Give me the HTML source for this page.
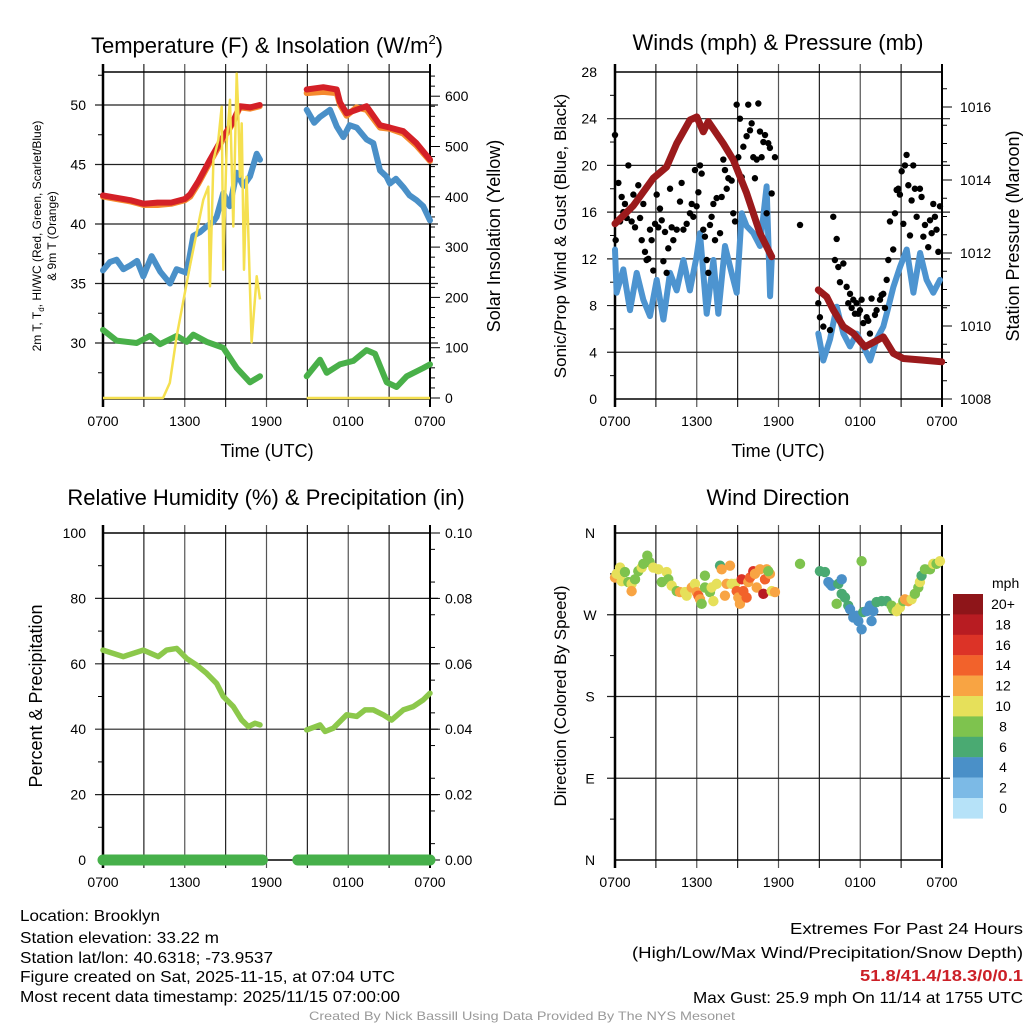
<!DOCTYPE html>
<html><head><meta charset="utf-8"><style>
html,body{margin:0;padding:0;background:#fff}
svg{display:block;font-family:"Liberation Sans",sans-serif}
</style></head><body>
<svg id="chart" width="1024" height="1024" viewBox="0 0 1024 1024" xmlns="http://www.w3.org/2000/svg">
<rect width="1024" height="1024" fill="#fff"/>
<g id="layer"></g>
<g font-size="16" fill="#000">
<text x="20" y="921" textLength="140" lengthAdjust="spacingAndGlyphs">Location: Brooklyn</text>
<text x="20" y="943" textLength="199" lengthAdjust="spacingAndGlyphs">Station elevation: 33.22 m</text>
<text x="20" y="963" textLength="253" lengthAdjust="spacingAndGlyphs">Station lat/lon: 40.6318; -73.9537</text>
<text x="20" y="982" textLength="375" lengthAdjust="spacingAndGlyphs">Figure created on Sat, 2025-11-15, at 07:04 UTC</text>
<text x="20" y="1002" textLength="380" lengthAdjust="spacingAndGlyphs">Most recent data timestamp: 2025/11/15 07:00:00</text>
<text x="790" y="934" textLength="233" lengthAdjust="spacingAndGlyphs">Extremes For Past 24 Hours</text>
<text x="632" y="958" textLength="391" lengthAdjust="spacingAndGlyphs">(High/Low/Max Wind/Precipitation/Snow Depth)</text>
<text x="860" y="981" textLength="163" lengthAdjust="spacingAndGlyphs" fill="#cc2027" font-weight="bold">51.8/41.4/18.3/0/0.1</text>
<text x="693" y="1003" textLength="330" lengthAdjust="spacingAndGlyphs">Max Gust: 25.9 mph On 11/14 at 1755 UTC</text>
<text x="309" y="1020" font-size="12" fill="#999" textLength="426" lengthAdjust="spacingAndGlyphs">Created By Nick Bassill Using Data Provided By The NYS Mesonet</text>
</g>
</svg>
<script>
// ---- Temperature panel data (time in hours since 0700 UTC) ----
const redT=[0,1,2,3,4,5,6,6.4,7.0,7.85,8.8,9.5,10.05,10.8,11.5,14.95,16.17,17.15,17.4,17.88,18.6,19.35,20.33,21.06,22.04,23.0,24];
const redV=[42.4,42.2,42.0,41.7,41.8,41.8,42.1,42.5,43.6,45.4,47.3,48.5,49.9,49.8,50.0,51.3,51.5,51.3,50.2,49.3,49.6,49.9,48.3,48.1,47.8,46.8,45.4];
const orangeT=[0,1,2,3,4,5,6,6.4,7.0,7.85,8.8,9.5,10.05,10.8,11.5,14.95,16.17,17.15,17.4,17.88,18.6,19.35,20.33,21.06,22.04,23.0,24];
const orangeV=[42.3,42.1,41.9,41.6,41.6,41.7,42.0,42.3,43.4,45.2,47.1,48.4,49.8,49.7,49.9,51.0,51.1,51.0,50.0,49.1,49.8,49.6,48.1,48.0,47.6,46.6,45.3];
const dewT=[0,0.5,1.0,1.5,1.98,2.5,2.96,3.57,4.2,4.92,5.4,6.14,6.63,7.1,7.6,8.1,8.34,8.83,9.3,9.81,10.3,10.79,11.28,11.52,14.95,15.5,15.93,16.66,17.15,17.64,18.1,18.62,19.35,19.84,20.33,20.8,21.06,21.5,22.04,22.5,23.02,23.5,24];
const dewV=[36.1,36.8,37.0,36.2,36.5,36.9,35.6,37.3,36.0,35.0,36.2,35.9,39.0,39.3,39.8,40.2,40.6,42.6,41.5,44.3,43.2,44.0,45.9,45.4,49.6,48.5,49.0,49.6,48.2,47.3,48.3,48.1,47.1,46.8,44.5,44.0,43.4,43.8,43.1,42.4,42.0,41.5,40.3];
const wcT=[0,1.0,2.47,3.45,4.18,5.41,6.14,6.63,7.6,8.83,9.81,10.79,11.52,14.95,15.93,16.42,17.39,18.37,19.35,19.96,20.82,21.55,22.29,23.51,24];
const wcV=[31.1,30.2,30.0,30.6,29.9,30.6,30.1,30.7,30.1,29.6,27.9,26.7,27.2,27.2,28.6,27.5,28.2,28.5,29.4,29.1,26.7,26.3,27.2,27.9,28.2];
const solarT=[0,4.4,4.9,5.41,6.38,7.36,7.73,7.85,8.1,8.46,8.71,8.83,9.08,9.32,9.56,9.81,9.93,10.05,10.18,10.35,10.54,10.91,11.28,11.52,14.95,24];
const solarV=[0,0,30,123,262,394,420,222,473,513,579,255,507,593,341,645,566,440,546,255,440,111,242,196,0,0];
// ---- Wind / pressure ----
const windT=[0,0.12,0.61,1.10,1.59,2.08,2.57,3.06,3.55,4.04,4.53,5.02,5.50,5.99,6.24,6.73,7.22,7.58,8.07,8.56,8.93,9.30,9.66,10.15,10.64,11.13,11.38,11.50,14.92,15.29,15.78,16.27,16.76,17.25,17.74,18.23,18.72,19.20,19.69,19.94,20.43,20.92,21.41,21.90,22.39,22.87,23.36,23.85];
const windV=[12.8,9.1,11.1,7.6,10.8,8.5,7.1,10.2,6.8,10.8,9.3,11.9,9.3,12.2,14.2,7.3,11.9,7.3,13.1,10.8,9.1,15.9,14.8,14.2,13.1,18.2,8.8,11.9,5.6,3.3,5.1,7.9,5.6,4.5,5.6,4.5,3.3,5.1,6.2,7.3,9.6,11.3,12.8,9.1,12.5,10.2,9.1,10.2];
const gustT=[0.0,0.05,0.25,0.37,0.49,0.61,0.73,0.86,0.98,1.22,1.35,1.47,1.71,1.84,1.96,2.08,2.20,2.32,2.45,2.57,2.69,2.81,2.94,3.06,3.18,3.30,3.43,3.55,3.67,3.79,3.91,4.04,4.16,4.28,4.53,4.77,4.89,5.02,5.26,5.50,5.63,5.75,5.87,5.99,6.12,6.24,6.36,6.48,6.60,6.73,6.85,6.97,7.09,7.22,7.34,7.46,7.71,7.83,7.95,8.07,8.20,8.32,8.56,8.68,8.81,8.93,9.05,9.17,9.30,9.42,9.54,9.66,9.78,9.91,10.03,10.15,10.27,10.40,10.52,10.64,10.76,10.89,11.01,11.13,11.25,11.37,11.50,11.74,13.58,14.92,15.04,15.29,15.78,16.02,16.14,16.27,16.39,16.51,16.76,17.00,17.12,17.25,17.37,17.49,17.61,17.73,17.86,17.98,18.10,18.22,18.47,18.59,18.71,18.83,19.08,19.20,19.45,19.57,19.69,19.81,19.94,20.06,20.18,20.42,20.55,20.67,20.79,20.91,21.04,21.16,21.28,21.40,21.53,21.65,21.77,21.89,22.01,22.14,22.38,22.50,22.63,22.75,22.99,23.12,23.24,23.36,23.48,23.60,23.73,23.85];
const gustV=[22.6,13.6,18.5,15.2,17.3,16.0,16.7,15.5,20.0,15.2,17.5,14.7,18.3,15.5,13.6,16.7,12.6,11.9,12.0,14.5,13.6,11.0,15.0,17.5,14.7,16.3,15.3,11.8,14.3,10.8,12.9,18.0,14.7,13.6,14.5,16.9,18.5,14.5,15.0,15.9,16.7,15.6,19.6,16.5,17.7,20.0,19.3,14.5,13.9,11.9,10.8,14.9,15.6,16.7,13.6,17.2,14.2,17.3,20.5,19.6,18.0,18.9,18.7,15.9,15.2,25.2,20.7,24.0,19.0,21.6,18.0,22.5,25.2,23.0,23.6,20.7,18.9,20.5,25.3,22.9,20.7,22.0,22.6,15.9,21.9,21.5,17.6,20.7,14.9,8.2,7.0,6.2,5.9,15.6,11.9,13.7,11.3,10.0,11.6,9.6,8.2,9.0,7.8,8.5,7.3,8.2,7.3,7.6,8.5,6.5,7.0,6.7,5.6,8.6,7.2,7.6,8.5,8.9,9.0,7.8,10.2,11.9,15.2,12.8,15.9,17.9,18.0,17.5,19.5,15.0,20.0,20.9,18.3,14.0,17.0,20.0,18.0,15.6,18.0,17.3,13.9,14.9,13.0,15.3,14.2,16.7,15.6,14.5,12.6,16.5];
const presT=[0,1.35,2.81,3.79,4.53,5.5,6.0,6.48,6.85,7.95,8.68,9.66,10.64,11.5,14.92,15.54,16.02,16.76,17.49,18.35,18.96,19.69,20.43,21.16,22.38,23.98];
const presV=[1012.8,1013.3,1014.05,1014.36,1015.0,1015.64,1015.73,1015.32,1015.6,1015.0,1014.55,1013.64,1012.54,1011.9,1010.99,1010.8,1010.44,1009.98,1009.8,1009.43,1009.55,1009.7,1009.25,1009.11,1009.07,1009.02];
// ---- Humidity / precipitation ----
const rhT=[0,1.49,2.96,4.06,4.67,5.41,6.14,6.87,7.6,8.34,8.83,9.56,10.18,10.67,11.15,11.52,14.95,15.93,16.3,16.9,17.88,18.62,19.23,19.84,20.57,21.18,22.04,22.77,23.51,24];
const rhV=[64.2,62.2,64.2,62.2,64.2,64.7,61.6,59.6,57.1,54.0,50.0,46.9,42.8,40.8,41.8,41.3,39.8,41.3,39.3,40.3,44.4,43.9,45.9,45.9,44.4,42.8,45.9,46.9,49.0,51.0];
const precipT=[0,11.7,14.3,24];
const precipV=[0,0,0,0];
// ---- Wind direction ----
const dirT=[0.0,0.12,0.37,0.49,0.73,0.98,1.22,1.22,1.47,1.71,1.96,2.08,2.37,2.54,2.81,3.18,3.43,3.79,3.91,4.16,4.53,4.77,5.14,5.26,5.63,5.87,5.99,6.12,6.24,6.36,6.60,6.60,6.97,7.09,7.22,7.46,7.71,7.83,8.07,8.20,8.44,8.56,8.81,8.93,9.05,9.17,9.30,9.42,9.66,9.78,9.91,10.15,10.27,10.40,10.64,10.89,11.01,11.13,11.37,11.25,11.50,11.74,13.58,15.04,15.41,15.66,15.78,15.90,16.39,16.64,16.64,16.88,16.27,17.12,17.25,17.49,17.73,17.86,18.10,18.22,18.47,18.71,18.83,18.96,19.20,19.57,19.94,20.30,20.42,20.67,20.91,21.16,21.28,21.53,21.77,22.01,22.26,22.38,22.50,22.75,23.12,23.36,23.60,23.85,18.10];
const dirV=[311,315,322,307,317,306,304,296,309,318,322,326,335,328,322,320,306,317,309,302,296,295,295,291,300,304,295,291,287,282,313,300,295,300,285,304,324,320,291,304,324,304,304,296,289,282,309,296,289,306,311,318,315,300,320,293,309,320,315,318,296,295,326,318,317,306,304,302,304,309,293,289,282,280,276,267,269,263,254,273,274,280,263,274,284,285,285,280,276,274,278,285,287,285,287,293,300,306,313,320,320,326,326,329,329,256];
const dirS=[12,10,10,10,8,8,10,12,8,8,10,8,8,8,10,10,8,10,8,10,8,12,10,10,12,10,12,14,12,8,8,8,8,10,10,10,6,12,12,12,12,10,10,14,12,12,16,14,14,12,14,16,12,12,12,18,14,12,12,8,10,12,8,6,6,4,4,4,6,4,6,6,8,6,4,4,4,4,4,6,4,4,4,4,6,6,6,8,8,10,10,8,12,12,10,8,8,10,6,8,8,10,8,10,8,2];
const cbLabels=["20+","18","16","14","12","10","8","6","4","2","0"];
const cbColors=["#8e1519","#b81c22","#dc3327","#f2622b","#f8a443","#e6e05a","#7ec34e","#4aaa72","#4a90c8","#7cbae6","#b6e2f8"];
const xTickLabels=["0700","1300","1900","0100","0700"];

const NS="http://www.w3.org/2000/svg";
const layer=document.getElementById('layer');
function mk(tag,attrs,parent){const e=document.createElementNS(NS,tag);for(const k in attrs)e.setAttribute(k,attrs[k]);(parent||layer).appendChild(e);return e;}
function txt(s,x,y,size,anchor,parent,extra){const t=mk('text',Object.assign({x:x,y:y,'font-size':size,'text-anchor':anchor||'middle',fill:'#000'},extra||{}),parent);t.textContent=s;return t;}
// break the line only across the data outage (between ~1840 and ~2150 UTC)
function pathFrom(T,V,fx,fy){let d='';for(let i=0;i<T.length;i++){const brk=i===0||(T[i-1]<12.5&&T[i]>13.8);d+=(brk?'M':'L')+fx(T[i]).toFixed(1)+','+fy(V[i]).toFixed(1);}return d;}

function frame(name,x0,x1,y0,y1,hLines){
  const g=mk('g',{});
  
  
  for(let i=0;i<=8;i++){const x=x0+(x1-x0)*i/8;mk('line',{x1:x,x2:x,y1:y0-8,y2:y1+8,stroke:i%2?'#222':'#555','stroke-width':1.2},g);}
  hLines.forEach(y=>mk('line',{x1:x0-8,x2:x1+8,y1:y,y2:y,stroke:'#222','stroke-width':1.2},g));
  mk('rect',{x:x0,y:y0,width:x1-x0,height:y1-y0,fill:'none',stroke:'#000','stroke-width':1.5},g);
  mk('line',{x1:x0,x2:x0,y1:y0-8,y2:y1+8,stroke:'#000','stroke-width':2.5},g);
  mk('line',{x1:x1,x2:x1,y1:y0-8,y2:y1+8,stroke:'#000','stroke-width':2},g);
  xTickLabels.forEach((l,i)=>{const tt=txt(l,x0+(x1-x0)*i/4,y1+27,14,'middle',g);});
  return g;
}
function ticks(g,x,ys,len){ys.forEach(y=>mk('line',{x1:x,x2:x+len,y1:y,y2:y,stroke:'#000','stroke-width':1},g));}

// ===== Panel 1 =====
{
const x0=103,x1=430,y0=72,y1=399;
const X=t=>x0+(x1-x0)*t/24, Y=v=>105+(50-v)*11.9, R=r=>398-r*0.503;
const ly=[30,35,40,45,50].map(Y);
const g=frame('temperature',x0,x1,y0,y1,ly);
const minorL=[];for(let v=27.5;v<=52.5;v+=5)minorL.push(Y(v));ticks(g,x0,minorL,-5);
const minorR=[];for(let r=0;r<=640;r+=20)if(r%100)minorR.push(R(r));ticks(g,x1,minorR,5);
[0,100,200,300,400,500,600].forEach(r=>{mk('line',{x1:x1,x2:x1+10,y1:R(r),y2:R(r),stroke:'#000'},g);const t=txt(String(r),x1+15,R(r)+5,14,'start',g);});
[30,35,40,45,50].forEach(v=>{const t=txt(String(v),86,Y(v)+5,14,'end',g);});
const series=[[wcT,wcV,'#49b049','wind-chill-line'],[dewT,dewV,'#4a90c8','dewpoint-line'],[orangeT,orangeV,'#f58a2e','temp-9m-line'],[redT,redV,'#d42027','temp-2m-line']];
series.forEach(s=>{const p=mk('path',{d:pathFrom(s[0],s[1],X,Y),fill:'none',stroke:s[2],'stroke-width':6,'stroke-linejoin':'round','stroke-linecap':'round'});});
const sp=mk('path',{d:pathFrom(solarT,solarV,X,R),fill:'none',stroke:'#f5e050','stroke-width':2.5,'stroke-linejoin':'round'});


const ti=mk('text',{x:267,y:53,'font-size':22,'text-anchor':'middle'});ti.innerHTML='Temperature (F) &amp; Insolation (W/m<tspan font-size="13" dy="-9">2</tspan><tspan dy="9">)</tspan>';

const xt=txt('Time (UTC)',267,457,18);
const yr=txt('Solar Insolation (Yellow)',0,0,18,'middle',null,{transform:'translate(500,236) rotate(-90)'});
const yl=mk('text',{'font-size':12,'text-anchor':'middle',transform:'translate(41,236) rotate(-90)'});
yl.innerHTML='2m T, T<tspan font-size="8" dy="3">d</tspan><tspan dy="-3">, HI/WC (Red, Green, Scarlet/Blue)</tspan>';

const yl2=txt('& 9m T (Orange)',0,0,12,'middle',null,{transform:'translate(56,236) rotate(-90)'});
}
// ===== Panel 2 =====
{
const x0=615,x1=942,y0=72,y1=399;
const X=t=>x0+(x1-x0)*t/24, Y=s=>399-s*11.68, P=p=>399-(p-1008)*36.5;
const lv=[4,8,12,16,20,24].map(Y);
const g=frame('winds',x0,x1,y0,y1,lv);
const mn=[];for(let s=2;s<=28;s+=4)mn.push(Y(s));ticks(g,x0,mn,-5);
const mp=[];for(let p=1008.5;p<1017;p+=0.5)if(p%2)mp.push(P(p));ticks(g,x1,mp,5);
[0,4,8,12,16,20,24,28].forEach(s=>{const t=txt(String(s),597,Y(s)+5,14,'end',g);});
[1008,1010,1012,1014,1016].forEach(p=>{mk('line',{x1:x1,x2:x1+10,y1:P(p),y2:P(p),stroke:'#000'},g);const t=txt(String(p),x1+18,P(p)+5,14,'start',g);});
const wp=mk('path',{d:pathFrom(windT,windV,X,Y),fill:'none',stroke:'#4d94d0','stroke-width':6,'stroke-linejoin':'round','stroke-linecap':'round'});

const gg=mk('g',{});
gustT.forEach((t,i)=>{const c=mk('circle',{cx:X(t),cy:Y(gustV[i]),r:3.2,fill:'#000'},gg);});
const pp=mk('path',{d:pathFrom(presT,presV,X,P),fill:'none',stroke:'#9b1a1c','stroke-width':7,'stroke-linejoin':'round','stroke-linecap':'round'});

const ti=txt('Winds (mph) & Pressure (mb)',778,50,22);
const xt=txt('Time (UTC)',778,457,18);
const a=txt('Sonic/Prop Wind & Gust (Blue, Black)',0,0,17,'middle',null,{transform:'translate(566,236) rotate(-90)'});
const b=txt('Station Pressure (Maroon)',0,0,18,'middle',null,{transform:'translate(1019,236) rotate(-90)'});
}
// ===== Panel 3 =====
{
const x0=103,x1=430,y0=533,y1=860;
const X=t=>x0+(x1-x0)*t/24, Y=v=>860-v*3.27, Q=p=>860-p*3270;
const g=frame('humidity',x0,x1,y0,y1,[20,40,60,80].map(Y));
const mn=[];for(let v=10;v<100;v+=20)mn.push(Y(v));ticks(g,x0,mn,-5);
const mr=[];for(let v=5;v<100;v+=10)mr.push(Y(v));ticks(g,x1,mr,5);
[0,20,40,60,80,100].forEach(v=>{const t=txt(String(v),86,Y(v)+5,14,'end',g);mk('line',{x1:x1,x2:x1+10,y1:Y(v),y2:Y(v),stroke:'#000'},g);});
["0.00","0.02","0.04","0.06","0.08","0.10"].forEach((l,i)=>{const t=txt(l,x1+15,Y(i*20)+5,14,'start',g);});
const rp=mk('path',{d:pathFrom(rhT,rhV,X,Y),fill:'none',stroke:'#8cc84b','stroke-width':5.5,'stroke-linejoin':'round','stroke-linecap':'round'});

const pr=mk('path',{d:pathFrom(precipT,precipV,X,Q),fill:'none',stroke:'#46b04a','stroke-width':11,'stroke-linecap':'round'});

const ti=txt('Relative Humidity (%) & Precipitation (in)',266,505,22);
const a=txt('Percent & Precipitation',0,0,18,'middle',null,{transform:'translate(42,696) rotate(-90)'});
}
// ===== Panel 4 =====
{
const x0=615,x1=942,y0=533,y1=860;
const X=t=>x0+(x1-x0)*t/24, Y=d=>860-d*327/360;
const g=frame('wind-direction',x0,x1,y0,y1,[90,180,270].map(Y));
const mn=[];for(let d=45;d<360;d+=90)mn.push(Y(d));ticks(g,x0,mn,-5);
["N","E","S","W","N"].forEach((l,i)=>{const t=txt(l,590,Y(i*90)+5,14,'middle',g);});
const col=s=>cbColors[10-Math.min(10,Math.floor(s/2))];
const gd=mk('g',{});
dirT.forEach((t,i)=>{const c=mk('circle',{cx:X(t),cy:Y(dirV[i]),r:5.2,fill:col(dirS[i])},gd);});
const ti=txt('Wind Direction',778,505,22);
const a=txt('Direction (Colored By Speed)',0,0,17,'middle',null,{transform:'translate(566,696) rotate(-90)'});
const cb=mk('g',{});
const u=txt('mph',992,588,14,'start',cb);
cbColors.forEach((c,i)=>{const r=mk('rect',{x:953,y:594+i*20.4,width:30,height:20.6,fill:c},cb);
const t=txt(cbLabels[i],1003,594+i*20.4+15,14,'middle',cb);});
}
</script>
</body></html>
